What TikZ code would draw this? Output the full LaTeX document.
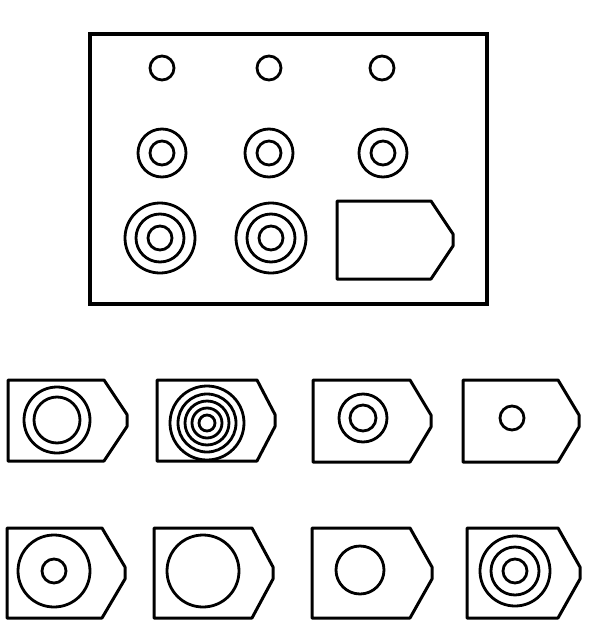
\documentclass[tikz,border=0pt]{standalone}
\newcommand{\plate}[5]{\draw[line width=1.5pt,line join=round] (#1,#4) -- (#2,#4) -- (#3,{(#4+#5)/2-6}) -- (#3,{(#4+#5)/2+6}) -- (#2,#5) -- (#1,#5) -- cycle;}
\begin{document}
\begin{tikzpicture}[x=0.5pt,y=-0.5pt,line width=1.4pt]
\useasboundingbox (0,0) rectangle (596,643);
% puzzle
\draw[line width=1.7pt] (90,34) rectangle (487,304);
 \foreach \pos in {162,269,382}
    \draw (\pos,68) circle[radius=12];
 \foreach \pos in {162,269,383}
    \foreach \r in {24,12}
       \draw (\pos,153) circle[radius=\r];
 \foreach \pos in {160,271}
    \foreach \r in {35,24,12}
       \draw (\pos,238) circle[radius=\r];
\plate{337}{431}{453}{201}{279}
% answers, first row
\plate{8}{104}{127}{380}{461}
 \foreach \r in {33,23} \draw (57,420) circle[radius=\r];
\plate{157}{257}{275}{380}{461}
 \foreach \r in {37,29,22,15,8} \draw (207,423) circle[radius=\r];
\plate{313}{410}{431}{380}{462}
 \foreach \r in {24,13} \draw (363,418) circle[radius=\r];
\plate{463}{558}{579}{380}{462}
 \draw (512,418) circle[radius=12];
% answers, second row
\plate{7}{102}{125}{528}{618}
 \foreach \r in {36,12} \draw (54,571) circle[radius=\r];
\plate{154}{252}{273}{528}{618}
 \draw (203,571) circle[radius=36];
\plate{312}{410}{432}{528}{618}
 \draw (360,570) circle[radius=24];
\plate{467}{558}{580}{528}{618}
 \foreach \r in {35,24,12} \draw (515,571) circle[radius=\r];
\end{tikzpicture}
\end{document}
